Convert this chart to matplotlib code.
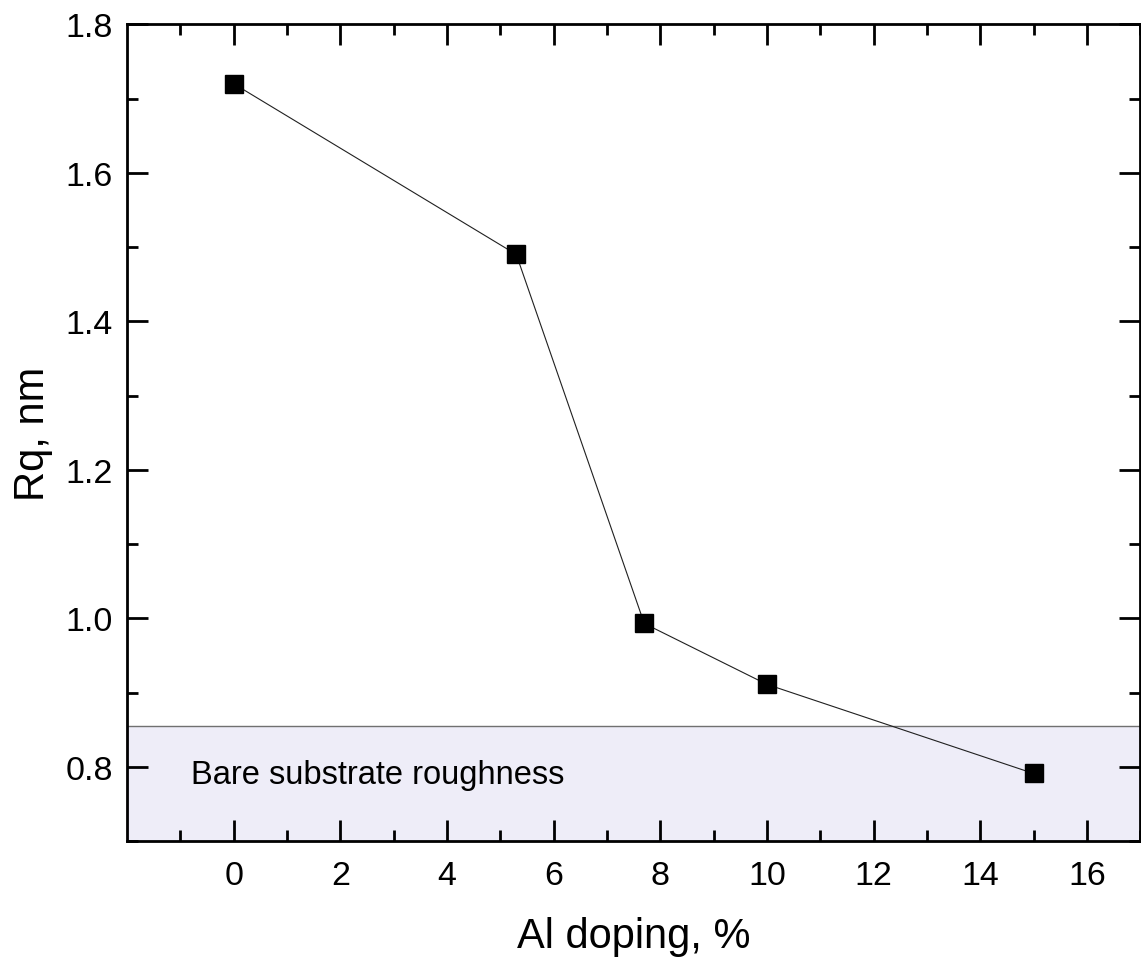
import matplotlib
matplotlib.use("Agg")
import matplotlib.pyplot as plt

plt.rcParams["font.family"] = ["Liberation Sans", "DejaVu Sans"]

# data
al_doping = [0, 5.3, 7.7, 10, 15]
rq = [1.72, 1.49, 0.993, 0.911, 0.791]
substrate_rq = 0.855
x_ticks = [0, 2, 4, 6, 8, 10, 12, 14, 16]
y_ticks = [0.8, 1.0, 1.2, 1.4, 1.6, 1.8]

fig = plt.figure(figsize=(11.41, 9.62), dpi=100)
ax = fig.add_axes([0.1113, 0.1247, 0.888, 0.849])

# bare substrate band
ax.axhspan(0.7, substrate_rq, color="#eeedf8", zorder=0, lw=0)
ax.axhline(substrate_rq, color="#707070", lw=1.0, zorder=1)
ax.text(-0.8, 0.789, "Bare substrate roughness", fontsize=23.5, va="center", ha="left")

ax.plot(al_doping, rq, color="#202020", lw=0.8, marker="s", markersize=13,
        markerfacecolor="black", markeredgecolor="black", zorder=3)

ax.set_xlim(-2, 17)
ax.set_ylim(0.7, 1.8)
ax.set_xticks(x_ticks)
ax.set_xticks([x + 1 for x in [-2] + x_ticks], minor=True)
ax.set_yticks(y_ticks)
ax.set_yticks([y + 0.1 for y in [0.6] + y_ticks[:-1]], minor=True)
ax.set_yticklabels([f"{y:.1f}" for y in y_ticks])

ax.tick_params(which="both", direction="in", top=True, right=True, width=2,
               labelsize=24.5)
ax.tick_params(axis="x", pad=14)
ax.tick_params(axis="y", pad=10)
ax.tick_params(which="major", length=15)
ax.tick_params(which="minor", length=8)
for s in ax.spines.values():
    s.set_linewidth(2)

ax.set_xlabel("Al doping, %", fontsize=30, labelpad=18)
ax.set_ylabel("Rq, nm", fontsize=30)
ax.yaxis.set_label_coords(-0.073, 0.5)

fig.savefig("out.png", dpi=100)
